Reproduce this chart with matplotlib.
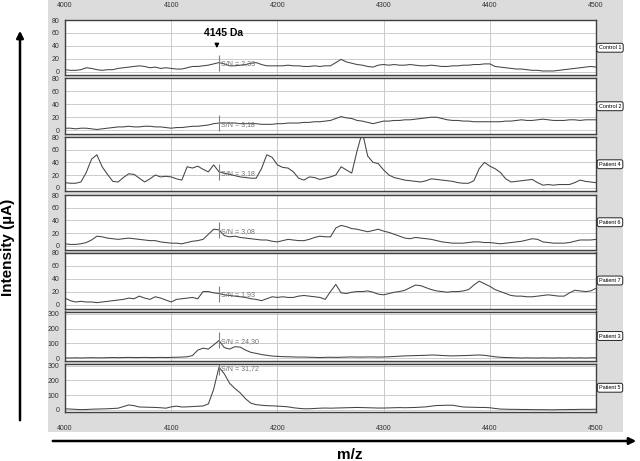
import numpy as np
import matplotlib
matplotlib.use("Agg")
import matplotlib.pyplot as plt
from matplotlib.patches import FancyArrowPatch

plt.rcParams['font.family'] = ['Liberation Sans', 'DejaVu Sans']

# m/z grid, 5 Da steps
mz = np.arange(4000, 4501, 5)

control_1 = [3, 2, 2, 3, 6, 5, 3, 2, 3, 3,
             5, 6, 7, 8, 9, 8, 6, 7, 5, 6,
             5, 4, 4, 6, 8, 8, 9, 10, 12, 14,
             12, 9, 9, 10, 11, 13, 14, 11, 9, 9,
             9, 9, 10, 9, 9, 8, 8, 9, 8, 9,
             9, 14, 19, 15, 13, 11, 10, 8, 7, 10,
             11, 10, 11, 10, 10, 11, 10, 9, 9, 10,
             9, 8, 8, 9, 9, 10, 10, 11, 11, 12,
             12, 8, 7, 6, 5, 4, 4, 3, 2, 2,
             1, 1, 1, 2, 3, 4, 5, 6, 7, 8,
             7]
control_2 = [3, 3, 2, 3, 3, 2, 1, 2, 3, 4,
             5, 5, 6, 5, 5, 6, 6, 5, 5, 4,
             3, 4, 4, 5, 6, 6, 7, 8, 10, 11,
             11, 11, 11, 10, 10, 10, 10, 9, 9, 9,
             10, 10, 11, 11, 11, 12, 12, 13, 13, 14,
             15, 18, 21, 19, 18, 15, 14, 12, 10, 12,
             14, 14, 15, 15, 16, 16, 17, 18, 19, 20,
             20, 18, 16, 15, 15, 14, 14, 13, 13, 13,
             13, 13, 13, 14, 14, 15, 16, 15, 15, 16,
             17, 16, 15, 15, 15, 16, 16, 15, 16, 16,
             16]
patient_4 = [8, 7, 7, 9, 24, 45, 52, 33, 21, 10,
             9, 16, 22, 21, 15, 9, 14, 20, 17, 18,
             17, 14, 12, 33, 31, 34, 29, 25, 36, 25,
             23, 21, 19, 17, 16, 15, 15, 30, 52, 48,
             36, 32, 31, 25, 15, 12, 17, 16, 13, 15,
             17, 20, 33, 28, 23, 58, 88, 50, 40, 38,
             28, 20, 16, 14, 12, 11, 10, 9, 11, 14,
             13, 12, 11, 10, 8, 7, 7, 11, 30, 40,
             34, 30, 24, 14, 9, 10, 11, 12, 13, 8,
             4, 5, 4, 5, 5, 5, 8, 12, 10, 9,
             8]
patient_6 = [3, 2, 2, 3, 5, 9, 15, 14, 12, 11,
             10, 11, 12, 11, 10, 9, 8, 8, 6, 5,
             4, 4, 3, 5, 7, 8, 10, 18, 26, 25,
             16, 14, 15, 13, 12, 11, 10, 9, 9, 7,
             6, 8, 10, 9, 8, 8, 10, 13, 15, 14,
             14, 28, 32, 30, 27, 26, 24, 22, 24, 26,
             23, 21, 18, 15, 12, 11, 13, 12, 11, 10,
             8, 6, 5, 4, 4, 4, 5, 6, 6, 5,
             5, 4, 3, 4, 5, 6, 7, 9, 11, 10,
             6, 5, 4, 4, 4, 5, 7, 9, 9, 9,
             10]
patient_7 = [10, 6, 4, 5, 4, 4, 3, 4, 5, 6,
             7, 8, 10, 9, 13, 10, 8, 12, 10, 7,
             4, 8, 9, 10, 11, 9, 20, 20, 18, 17,
             15, 14, 13, 12, 11, 9, 8, 6, 9, 12,
             11, 12, 11, 11, 13, 14, 13, 12, 11, 8,
             20, 31, 18, 17, 19, 20, 20, 21, 19, 16,
             15, 17, 19, 20, 22, 26, 30, 29, 26, 23,
             21, 20, 19, 20, 20, 21, 23, 30, 36, 32,
             28, 23, 20, 17, 14, 13, 13, 12, 12, 13,
             14, 15, 14, 13, 13, 18, 22, 21, 20, 21,
             25]
patient_3 = [2, 2, 3, 2, 3, 4, 3, 3, 4, 5,
             4, 5, 6, 5, 5, 6, 5, 5, 6, 5,
             6, 7, 8, 10, 18, 55, 68, 62, 90, 120,
             72, 62, 78, 75, 55, 40, 33, 25, 20, 15,
             13, 11, 10, 9, 8, 8, 7, 6, 5, 6,
             7, 6, 7, 8, 9, 8, 8, 9, 9, 8,
             9, 10, 12, 14, 16, 17, 18, 19, 20, 22,
             21, 19, 17, 16, 17, 18, 19, 21, 22, 20,
             15, 10, 7, 5, 4, 3, 2, 3, 2, 2,
             3, 2, 2, 3, 2, 3, 2, 3, 2, 3,
             3]
patient_5 = [7, 5, 3, 1, 2, 4, 5, 6, 7, 9,
             11, 22, 33, 28, 19, 18, 17, 16, 14, 11,
             20, 25, 19, 20, 22, 24, 26, 40, 140, 290,
             245, 180, 145, 115, 75, 45, 35, 31, 28, 27,
             25, 23, 20, 14, 10, 7, 7, 9, 11, 12,
             11, 12, 13, 14, 15, 16, 15, 14, 13, 12,
             12, 13, 14, 15, 14, 15, 16, 18, 20, 25,
             29, 30, 31, 31, 25, 19, 18, 17, 16, 16,
             14, 9, 5, 4, 3, 3, 2, 2, 1, 1,
             1, 0, 0, 1, 1, 2, 2, 3, 3, 3,
             4]

series = [control_1, control_2, patient_4, patient_6, patient_7, patient_3, patient_5]
names = ['Control 1', 'Control 2', 'Patient 4', 'Patient 6', 'Patient 7', 'Patient 3', 'Patient 5']
sn_labels = ['S/N = 2,33', 'S/N = 3,18', 'S/N = 3,18', 'S/N = 3,08',
             'S/N = 1,93', 'S/N = 24,30', 'S/N = 31,72']
peak_mz = 4145
x_ticks = [4000, 4100, 4200, 4300, 4400, 4500]

# panel top / bottom in pixels
W, H = 640, 461
panels_px = [(20, 75.5), (78.5, 134), (137, 191.5), (195, 249.5), (252.5, 308.5),
             (311.5, 360.5), (363.5, 412)]

fig = plt.figure(figsize=(6.4, 4.61), dpi=100)
fig.patch.set_facecolor('white')

# grey software background behind the panels
bg = fig.add_axes([48 / W, 1 - 432 / H, (623 - 48) / W, 432 / H], zorder=-5)
bg.set_facecolor('#dcdcdc')
bg.set_xticks([])
bg.set_yticks([])
for s in bg.spines.values():
    s.set_visible(False)

for i, (top, bot) in enumerate(panels_px):
    ax = fig.add_axes([65 / W, 1 - bot / H, 531 / W, (bot - top) / H])
    y = np.array(series[i], dtype=float)
    big = i >= 5
    if big:
        ax.set_ylim(-15, 315)
        ax.set_yticks([0, 100, 200, 300])
    else:
        ax.set_ylim(-6, 80)
        ax.set_yticks([0, 20, 40, 60, 80])
    ax.set_xlim(4000, 4500)
    ax.set_xticks(x_ticks)
    ax.grid(True, color='#cccccc', linewidth=0.7)
    ax.set_axisbelow(True)
    ax.plot(mz, y, color='#444444', linewidth=0.75)

    v = y[list(mz).index(peak_mz)]
    ax.plot([peak_mz], [v], marker='|', markersize=11, color='#808080', mew=0.8)
    ax.annotate(sn_labels[i], (peak_mz, v), xytext=(1.5, -1), textcoords='offset points',
                va='center', ha='left', fontsize=5, color='#707070')

    for s in ax.spines.values():
        s.set_color('#404040')
        s.set_linewidth(1.0)
    ax.tick_params(axis='y', length=0, labelsize=5, pad=4, colors='#333333')
    ax.tick_params(axis='x', length=0, labelsize=5, colors='#333333')
    if i == 0:
        ax.tick_params(axis='x', labeltop=True, labelbottom=False, pad=8)
    elif i == len(panels_px) - 1:
        ax.tick_params(axis='x', labelbottom=True, pad=9)
    else:
        ax.tick_params(axis='x', labelbottom=False)

    fig.text(610 / W, 1 - (top + bot) / 2 / H, names[i], fontsize=4, ha='center', va='center',
             bbox=dict(boxstyle='round,pad=0.35', facecolor='white', edgecolor='#222222', linewidth=0.7))

    if i == 0:
        ax.text(4149, 60, '4145 Da', fontsize=7.5, fontweight='bold', ha='center', va='center')
        ax.annotate('', xy=(peak_mz - 2, 32), xytext=(peak_mz - 2, 47),
                    arrowprops=dict(arrowstyle='-|>', color='black', lw=1, mutation_scale=6))

# outer axis arrows
fig.patches.append(FancyArrowPatch((20 / W, 1 - 423 / H), (20 / W, 1 - 28 / H),
                                   transform=fig.transFigure, arrowstyle='-|>',
                                   mutation_scale=10, color='black', lw=1.8))
fig.patches.append(FancyArrowPatch((50 / W, 1 - 441 / H), (639 / W, 1 - 441 / H),
                                   transform=fig.transFigure, arrowstyle='-|>',
                                   mutation_scale=10, color='black', lw=1.8))
fig.text(8 / W, 1 - 247 / H, 'Intensity (µA)', rotation=90, fontsize=11, fontweight='bold',
         ha='center', va='center')
fig.text(350 / W, 1 - 455 / H, 'm/z', fontsize=11, fontweight='bold', ha='center', va='center')

fig.savefig('out.png', dpi=100)
